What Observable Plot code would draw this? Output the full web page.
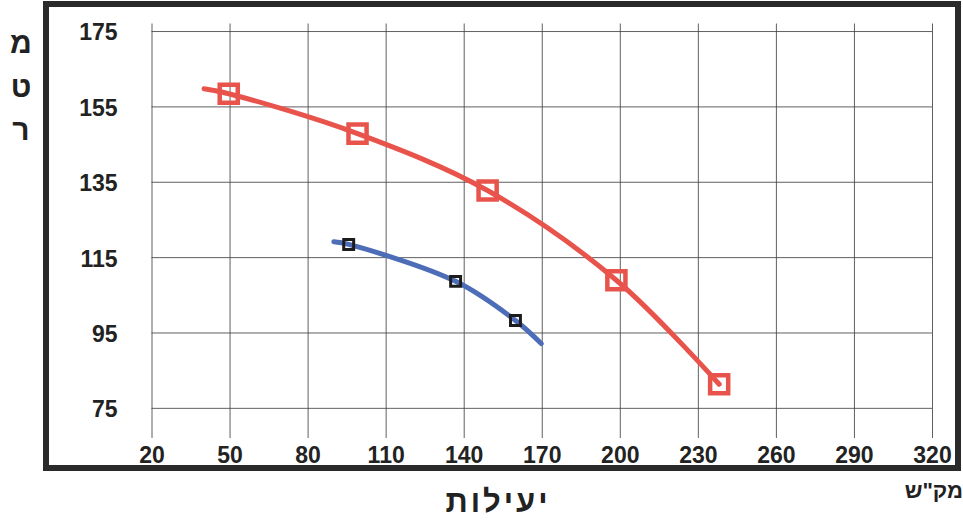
<!DOCTYPE html>
<html><head><meta charset="utf-8">
<script src="https://cdn.jsdelivr.net/npm/d3@7"></script>
<script src="https://cdn.jsdelivr.net/npm/@observablehq/plot@0.6"></script>
<style>
body{margin:0;background:#fff;}
#wrap{position:relative;width:963px;height:520px;font-family:"Liberation Sans",Arial,sans-serif;color:#222;overflow:hidden;}
#chart{position:absolute;left:0;top:0;}
.frame{position:absolute;left:43px;top:1px;width:918px;height:470px;border:6px solid #2a2a2a;box-sizing:border-box;pointer-events:none;}
.ylab{position:absolute;left:5px;width:32px;text-align:center;font-weight:bold;font-size:30px;line-height:30px;}
.xtitle{position:absolute;left:398px;width:200px;top:486px;text-align:center;font-weight:bold;font-size:31px;line-height:31px;letter-spacing:3px;direction:rtl;}
.unit{position:absolute;left:880px;width:83px;top:478px;text-align:right;font-weight:bold;font-size:22px;line-height:26px;direction:rtl;}
</style></head><body>
<div id="wrap">
<div id="chart"></div>
<div class="frame"></div>
<div class="ylab" style="top:28px">מ</div>
<div class="ylab" style="top:72px">ט</div>
<div class="ylab" style="top:115px">ר</div>
<div class="xtitle">יעילות</div>
<div class="unit">מק"ש</div>
</div>
<script>
const xTicks = [20, 50, 80, 110, 140, 170, 200, 230, 260, 290, 320];
const yTicks = [75, 95, 115, 135, 155, 175];

// red series (curve + markers)
const redCurveX = [40, 49.5, 99, 149, 198.5, 238];
const redCurveY = [159.8, 158.5, 147.9, 132.8, 109, 81.4];
const redMarkX = [49.5, 99, 149, 198.5, 238];
const redMarkY = [158.5, 147.9, 132.8, 109, 81.4];

// blue series (curve + markers)
const blueCurveX = [89.9, 95.6, 136.7, 159.7, 169.6];
const blueCurveY = [119.2, 118.5, 108.7, 98.3, 92.2];
const blueMarkX = [95.6, 136.7, 159.7];
const blueMarkY = [118.5, 108.7, 98.3];

const RED = "#e8544c", BLUE = "#4d6db8";
const zip = (xs, ys) => xs.map((x, i) => ({x, y: ys[i]}));
const redCurve = zip(redCurveX, redCurveY);
const redMarks = zip(redMarkX, redMarkY);
const blueCurve = zip(blueCurveX, blueCurveY);
const blueMarks = zip(blueMarkX, blueMarkY);

const chart = Plot.plot({
  width: 963,
  height: 520,
  marginLeft: 151.5,
  marginRight: 31,
  marginTop: 23.5,
  marginBottom: 82,
  style: {fontFamily: "'Liberation Sans', Arial, sans-serif", background: "transparent", overflow: "visible"},
  x: {domain: [20, 320]},
  y: {domain: [67, 177]},
  marks: [
    Plot.gridX(xTicks, {stroke: "#444", strokeOpacity: 0.85, strokeWidth: 1}),
    Plot.gridY(yTicks, {stroke: "#444", strokeOpacity: 0.85, strokeWidth: 1, x1: 20, x2: 320}),
    Plot.axisX(xTicks, {tickSize: 0, tickPadding: 8, fontSize: 23, fontWeight: "bold", fill: "#222", label: null}),
    Plot.axisY(yTicks, {tickSize: 0, tickPadding: 34.5, fontSize: 23, fontWeight: "bold", fill: "#222", label: null, dy: 1.5}),
    Plot.line(redCurve, {x: "x", y: "y", stroke: RED, strokeWidth: 5, curve: "catmull-rom"}),
    Plot.dot(redMarks, {x: "x", y: "y", symbol: "square", r: 10.2, stroke: RED, strokeWidth: 4.5, fill: "none"}),
    Plot.line(blueCurve, {x: "x", y: "y", stroke: BLUE, strokeWidth: 5, curve: "catmull-rom"}),
    Plot.dot(blueMarks, {x: "x", y: "y", symbol: "square", r: 5.6, stroke: "#1c1c1c", strokeWidth: 3, fill: "none"})
  ]
});
document.getElementById("chart").appendChild(chart);
</script>
</body></html>
